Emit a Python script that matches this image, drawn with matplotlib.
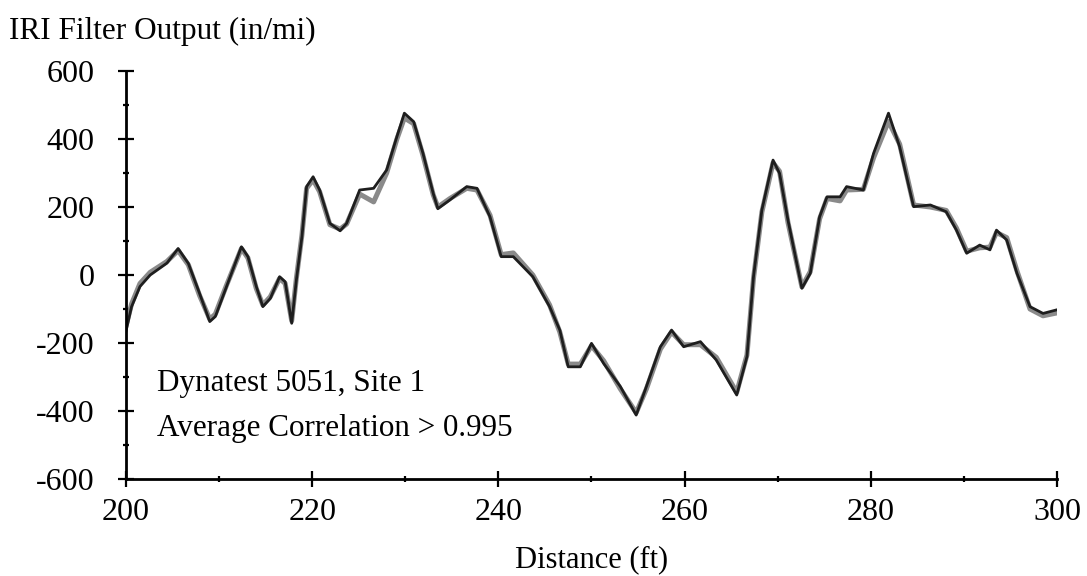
#!/usr/bin/env python3
"""IRI filter output comparison, Dynatest 5051 site 1."""

import matplotlib
matplotlib.use("Agg")
import matplotlib.pyplot as plt
from matplotlib.ticker import MultipleLocator

plt.rcParams['font.family'] = ['Liberation Serif', 'DejaVu Serif']
plt.rcParams['axes.unicode_minus'] = False

# distance (ft) and IRI filter output (in/mi)
dist = [200.0, 200.6, 201.5, 202.6, 204.4, 205.6, 206.7, 207.9, 209.0, 209.6,
        210.8, 212.4, 213.1, 214.0, 214.7, 215.5, 216.5, 217.1, 217.8, 218.3,
        218.9, 219.4, 220.1, 220.8, 221.9, 223.0, 223.7, 225.1, 226.6, 228.0,
        229.1, 229.9, 230.9, 231.9, 233.0, 233.5, 234.8, 236.6, 237.7, 239.1,
        240.3, 241.6, 243.7, 245.5, 246.6, 247.5, 248.8, 250.0, 251.3, 253.1,
        254.8, 255.9, 257.4, 258.6, 259.9, 261.7, 263.4, 265.6, 266.7, 267.4,
        268.3, 269.5, 270.2, 271.1, 272.6, 273.5, 274.5, 275.3, 276.7, 277.4,
        279.2, 280.3, 281.9, 283.1, 284.6, 286.4, 288.1, 289.2, 290.3, 291.7,
        292.8, 293.5, 294.6, 295.7, 297.1, 298.5, 299.9]

run_a = [-165, -93, -34, 0, 35, 78, 34, -54, -137, -122,
         -34, 83, 54, -34, -93, -69, -5, -20, -142, -15,
         113, 260, 289, 250, 152, 130, 152, 250, 255, 309,
         407, 476, 451, 358, 240, 195, 221, 260, 255, 171,
         54, 54, -5, -93, -162, -270, -270, -201, -260, -328,
         -412, -328, -211, -162, -211, -196, -250, -353, -240, -5,
         191, 338, 299, 162, -39, 5, 171, 230, 230, 260,
         250, 358, 476, 377, 201, 206, 186, 132, 64, 88,
         74, 132, 103, 5, -93, -113, -103]

run_b = [-150, -85, -25, 8, 40, 72, 30, -60, -130, -115,
         -30, 78, 50, -40, -88, -64, -10, -25, -135, -10,
         118, 255, 280, 245, 148, 135, 150, 238, 215, 300,
         400, 462, 445, 352, 236, 200, 225, 255, 250, 176,
         60, 65, 0, -88, -168, -262, -262, -208, -252, -335,
         -405, -335, -218, -168, -205, -205, -242, -345, -235, -10,
         185, 330, 305, 155, -35, 10, 165, 225, 218, 250,
         252, 345, 452, 385, 206, 200, 190, 138, 70, 80,
         82, 125, 110, 12, -100, -120, -112]

x_ticks = [200, 220, 240, 260, 280, 300]
y_ticks = [-600, -400, -200, 0, 200, 400, 600]


def main():
    fig = plt.figure(figsize=(10.87, 5.76), dpi=100)
    ax = fig.add_axes([0.1159, 0.1684, 0.8565, 0.7083])

    ax.plot(dist, run_b, color='#8a8a8a', linewidth=3.6, solid_joinstyle='round')
    ax.plot(dist, run_a, color='#1e1e1e', linewidth=2.0, solid_joinstyle='round')

    ax.set_xlim(200, 300)
    ax.set_ylim(-600, 600)
    ax.set_xticks(x_ticks)
    ax.set_yticks(y_ticks)
    ax.xaxis.set_minor_locator(MultipleLocator(10))
    ax.yaxis.set_minor_locator(MultipleLocator(100))

    for side in ('top', 'right'):
        ax.spines[side].set_visible(False)
    for side in ('left', 'bottom'):
        ax.spines[side].set_linewidth(2.0)

    ax.tick_params(which='major', direction='inout', length=11.5, width=1.6,
                   labelsize=23)
    ax.tick_params(which='minor', direction='inout', length=5, width=1.6)
    ax.tick_params(axis='x', which='major', pad=8)
    ax.tick_params(axis='y', which='major', pad=17)

    ax.set_xlabel('Distance (ft)', fontsize=22, labelpad=13)
    fig.text(0.008, 0.945, 'IRI Filter Output (in/mi)', fontsize=22.5,
             ha='left', va='center')

    ax.text(203.3, -318, 'Dynatest 5051, Site 1', fontsize=22.4, va='center')
    ax.text(203.3, -450, 'Average Correlation > 0.995', fontsize=22.4, va='center')

    fig.savefig('out.png', dpi=100)
    plt.close(fig)


if __name__ == "__main__":
    main()
